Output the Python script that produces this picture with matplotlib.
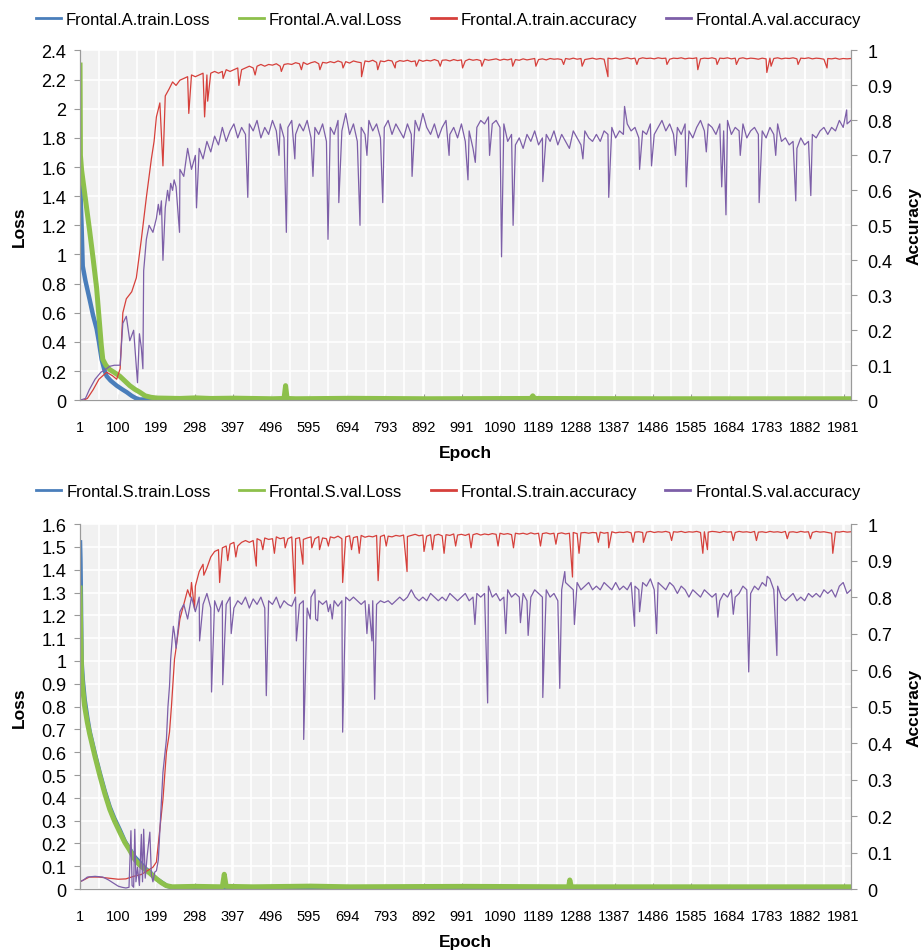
import numpy as np
import matplotlib.pyplot as plt
from matplotlib.lines import Line2D
from matplotlib.ticker import MultipleLocator, FuncFormatter

plt.rcParams['font.family'] = ['Liberation Sans', 'DejaVu Sans']

# ---- data ----
xticks = list(range(1, 2000, 99))
grid_ep = list(range(250, 2001, 10))   # epochs of the "late" value lists

# Frontal.A
a_tr_loss = [(1, 1.62), (3, 1.35), (5, 1.2), (8, 0.92), (15, 0.82), (26, 0.69), (35, 0.58),
             (44, 0.49), (50, 0.40), (57, 0.28), (64, 0.21), (70, 0.165), (80, 0.135),
             (96, 0.10), (110, 0.075), (122, 0.055), (135, 0.03), (145, 0.015), (155, 0.005),
             (200, 0.003), (2000, 0.003)]
a_va_loss = [(1, 2.3), (2, 1.68), (5, 1.58), (8, 1.52), (15, 1.38), (26, 1.16), (35, 0.97),
             (44, 0.77), (52, 0.51), (56, 0.38), (60, 0.28), (68, 0.24), (78, 0.21), (90, 0.19),
             (104, 0.165), (118, 0.13), (130, 0.10), (143, 0.075), (156, 0.055), (170, 0.03),
             (185, 0.02), (200, 0.015), (260, 0.012), (300, 0.016), (340, 0.012), (400, 0.014),
             (500, 0.01), (530, 0.012), (534, 0.1), (538, 0.012), (560, 0.01), (700, 0.013),
             (900, 0.01), (1170, 0.012), (1175, 0.03), (1180, 0.012), (1500, 0.01), (2000, 0.01)]

a_tr_acc_early = [(1, 0), (10, 0), (20, 0.005), (35, 0.03), (50, 0.06), (70, 0.08), (85, 0.07),
                  (96, 0.06), (105, 0.09), (112, 0.25), (121, 0.29), (135, 0.31), (147, 0.35),
                  (160, 0.46), (173, 0.58), (186, 0.69), (193, 0.74), (199, 0.81), (208, 0.85),
                  (216, 0.67), (222, 0.87), (232, 0.89), (241, 0.91)]
a_tr_acc_late = [
    0.90, 0.915, 0.92, 0.925, 0.93, 0.925, 0.93, 0.935, 0.93, 0.935,
    0.94, 0.935, 0.94, 0.945, 0.94, 0.945, 0.95, 0.945, 0.95, 0.955,
    0.95, 0.955, 0.96, 0.955, 0.96, 0.958, 0.962, 0.955, 0.96, 0.962,
    0.96, 0.965, 0.962, 0.966, 0.96, 0.965, 0.968, 0.962, 0.966, 0.964,
    0.968, 0.965, 0.97, 0.966, 0.968, 0.964, 0.97, 0.967, 0.965, 0.97,
    0.968, 0.972, 0.966, 0.97, 0.968, 0.972, 0.97, 0.966, 0.971, 0.969,
    0.972, 0.968, 0.97, 0.973, 0.969, 0.972, 0.97, 0.974, 0.97, 0.972,
    0.973, 0.97, 0.974, 0.971, 0.973, 0.97, 0.975, 0.972, 0.974, 0.971,
    0.975, 0.972, 0.974, 0.976, 0.972, 0.975, 0.973, 0.976, 0.974, 0.972,
    0.976, 0.973, 0.975, 0.977, 0.974, 0.976, 0.973, 0.977, 0.975, 0.976,
    0.974, 0.977, 0.975, 0.978, 0.975, 0.977, 0.974, 0.976, 0.978, 0.975,
    0.977, 0.975, 0.978, 0.976, 0.978, 0.975, 0.977, 0.979, 0.976, 0.978,
    0.976, 0.979, 0.977, 0.978, 0.976, 0.979, 0.977, 0.978, 0.975, 0.978,
    0.977, 0.979, 0.976, 0.978, 0.977, 0.979, 0.976, 0.978, 0.977, 0.979,
    0.976, 0.978, 0.977, 0.979, 0.976, 0.978, 0.977, 0.979, 0.976, 0.978,
    0.977, 0.975, 0.978, 0.976, 0.978, 0.977, 0.979, 0.976, 0.978, 0.977,
    0.979, 0.976, 0.978, 0.977, 0.979, 0.976, 0.978, 0.977, 0.975, 0.977,
    0.976, 0.978, 0.975, 0.977, 0.976, 0.977]
a_tr_acc_dips = [(283, 0.82), (324, 0.81), (332, 0.855), (372, 0.92), (413, 0.90), (455, 0.93),
                 (523, 0.94), (575, 0.945), (623, 0.945), (683, 0.95), (731, 0.925), (773, 0.945),
                 (818, 0.95), (873, 0.955), (935, 0.955), (993, 0.95), (1043, 0.955),
                 (1123, 0.955), (1183, 0.955), (1255, 0.96), (1303, 0.955), (1370, 0.925),
                 (1445, 0.96), (1523, 0.96), (1603, 0.945), (1653, 0.96), (1703, 0.96),
                 (1782, 0.937), (1793, 0.955), (1863, 0.96), (1938, 0.95)]

a_va_acc_early = [(1, 0), (15, 0.005), (25, 0.03), (40, 0.06), (55, 0.08), (70, 0.09), (78, 0.097),
                  (90, 0.1), (105, 0.1), (112, 0.22), (121, 0.24), (130, 0.17), (140, 0.2),
                  (150, 0.05), (155, 0.19), (160, 0.15), (164, 0.09), (166, 0.37), (173, 0.46),
                  (180, 0.50), (190, 0.48), (199, 0.52), (204, 0.56), (208, 0.53), (212, 0.57),
                  (216, 0.40), (222, 0.55), (228, 0.60), (232, 0.57), (236, 0.62), (241, 0.60),
                  (245, 0.63)]
a_va_acc_late = [
    0.61, 0.66, 0.64, 0.72, 0.66, 0.70, 0.72, 0.69, 0.74, 0.71,
    0.755, 0.73, 0.78, 0.74, 0.77, 0.79, 0.75, 0.78, 0.76, 0.79,
    0.77, 0.80, 0.75, 0.78, 0.76, 0.80, 0.77, 0.79, 0.75, 0.78,
    0.80, 0.76, 0.79, 0.77, 0.80, 0.75, 0.78, 0.76, 0.79, 0.74,
    0.78, 0.76, 0.80, 0.77, 0.82, 0.76, 0.79, 0.74, 0.78, 0.76,
    0.80, 0.77, 0.79, 0.75, 0.78, 0.80, 0.76, 0.79, 0.77, 0.75,
    0.79, 0.76, 0.80, 0.77, 0.82, 0.78, 0.76, 0.79, 0.75, 0.78,
    0.80, 0.76, 0.78, 0.75, 0.79, 0.74, 0.77, 0.72, 0.78, 0.80,
    0.79, 0.81, 0.79, 0.80, 0.78, 0.79, 0.74, 0.76, 0.73, 0.75,
    0.72, 0.76, 0.74, 0.77, 0.73, 0.75, 0.76, 0.74, 0.77, 0.73,
    0.76, 0.74, 0.72, 0.77, 0.75, 0.73, 0.77, 0.75, 0.74, 0.76,
    0.74, 0.77, 0.76, 0.78, 0.75, 0.77, 0.76, 0.79, 0.77, 0.78,
    0.75, 0.77, 0.76, 0.79, 0.76, 0.78, 0.80, 0.77, 0.79, 0.76,
    0.78, 0.76, 0.79, 0.77, 0.75, 0.78, 0.80, 0.77, 0.79, 0.78,
    0.76, 0.79, 0.77, 0.80, 0.76, 0.78, 0.77, 0.79, 0.75, 0.77,
    0.78, 0.76, 0.77, 0.75, 0.78, 0.76, 0.79, 0.74, 0.75, 0.73,
    0.74, 0.72, 0.75, 0.73, 0.74, 0.76, 0.75, 0.77, 0.78, 0.76,
    0.78, 0.77, 0.80, 0.78, 0.79, 0.80]
a_va_acc_dips = [(259, 0.48), (303, 0.55), (436, 0.58), (517, 0.70), (536, 0.48), (558, 0.69),
                 (605, 0.64), (644, 0.46), (672, 0.565), (727, 0.50), (745, 0.70), (786, 0.565),
                 (862, 0.64), (958, 0.70), (1007, 0.63), (1026, 0.68), (1063, 0.70),
                 (1094, 0.41), (1124, 0.50), (1201, 0.625), (1305, 0.69), (1372, 0.58),
                 (1413, 0.84), (1452, 0.66), (1483, 0.67), (1545, 0.70), (1573, 0.61),
                 (1625, 0.71), (1665, 0.61), (1676, 0.53), (1713, 0.70), (1762, 0.565),
                 (1805, 0.70), (1857, 0.57), (1896, 0.585), (1989, 0.83)]

# Frontal.S
s_tr_loss = [(1, 1.52), (2, 1.45), (3, 1.32), (5, 1.0), (8, 0.92), (13, 0.83), (20, 0.75),
             (26, 0.69), (40, 0.59), (52, 0.51), (65, 0.43), (78, 0.36), (90, 0.31), (104, 0.26),
             (117, 0.21), (130, 0.175), (143, 0.14), (156, 0.117), (170, 0.09), (182, 0.075),
             (190, 0.06), (199, 0.045), (212, 0.03), (225, 0.015), (240, 0.008), (300, 0.006),
             (2000, 0.005)]
s_va_loss = [(1, 1.32), (3, 1.1), (5, 0.95), (8, 0.88), (13, 0.8), (20, 0.73), (26, 0.68),
             (40, 0.58), (52, 0.50), (65, 0.42), (78, 0.35), (90, 0.30), (104, 0.25),
             (117, 0.205), (130, 0.17), (143, 0.13), (156, 0.105), (170, 0.085), (182, 0.07),
             (190, 0.058), (199, 0.045), (212, 0.028), (225, 0.015), (240, 0.01), (300, 0.012),
             (370, 0.01), (375, 0.065), (380, 0.012), (450, 0.01), (600, 0.013), (700, 0.01),
             (1000, 0.012), (1268, 0.01), (1271, 0.04), (1275, 0.01), (1600, 0.01), (2000, 0.01)]

s_tr_acc_early = [(1, 0.02), (10, 0.025), (25, 0.033), (50, 0.033), (75, 0.03), (100, 0.027),
                  (120, 0.028), (140, 0.035), (160, 0.04), (175, 0.05), (190, 0.06), (199, 0.074),
                  (207, 0.156), (216, 0.246), (225, 0.375), (233, 0.43), (238, 0.50), (246, 0.63)]
s_tr_acc_late = [
    0.66, 0.74, 0.78, 0.82, 0.84, 0.83, 0.87, 0.89, 0.88, 0.91,
    0.925, 0.93, 0.935, 0.94, 0.945, 0.95, 0.94, 0.95, 0.955, 0.95,
    0.955, 0.96, 0.955, 0.962, 0.958, 0.96, 0.965, 0.96, 0.963, 0.96,
    0.965, 0.96, 0.963, 0.958, 0.962, 0.965, 0.96, 0.966, 0.962, 0.96,
    0.965, 0.962, 0.967, 0.96, 0.965, 0.968, 0.963, 0.966, 0.969, 0.964,
    0.967, 0.965, 0.969, 0.966, 0.97, 0.967, 0.965, 0.969, 0.967, 0.97,
    0.966, 0.969, 0.972, 0.968, 0.97, 0.967, 0.971, 0.969, 0.972, 0.968,
    0.971, 0.969, 0.973, 0.97, 0.972, 0.969, 0.973, 0.971, 0.974, 0.97,
    0.973, 0.971, 0.974, 0.972, 0.975, 0.972, 0.974, 0.971, 0.975, 0.973,
    0.975, 0.972, 0.976, 0.973, 0.975, 0.974, 0.976, 0.973, 0.975, 0.974,
    0.976, 0.973, 0.975, 0.977, 0.974, 0.976, 0.977, 0.975, 0.977, 0.976,
    0.978, 0.975, 0.977, 0.979, 0.976, 0.978, 0.977, 0.979, 0.976, 0.978,
    0.979, 0.977, 0.978, 0.98, 0.977, 0.979, 0.978, 0.98, 0.977, 0.979,
    0.978, 0.98, 0.977, 0.979, 0.978, 0.98, 0.977, 0.979, 0.978, 0.98,
    0.979, 0.977, 0.98, 0.978, 0.979, 0.977, 0.98, 0.978, 0.979, 0.977,
    0.98, 0.978, 0.979, 0.977, 0.98, 0.978, 0.979, 0.977, 0.98, 0.978,
    0.979, 0.977, 0.98, 0.978, 0.979, 0.977, 0.98, 0.978, 0.979, 0.977,
    0.975, 0.979, 0.978, 0.98, 0.978, 0.979]
s_tr_acc_dips = [(287, 0.80), (298, 0.767), (322, 0.86), (363, 0.84), (384, 0.90), (405, 0.91),
                 (458, 0.885), (475, 0.93), (505, 0.92), (533, 0.935), (558, 0.81), (579, 0.89),
                 (602, 0.935), (622, 0.93), (645, 0.94), (682, 0.84), (705, 0.93), (725, 0.92),
                 (774, 0.845), (795, 0.94), (849, 0.87), (893, 0.925), (915, 0.93), (945, 0.92),
                 (975, 0.94), (1015, 0.935), (1085, 0.94), (1125, 0.935), (1195, 0.94),
                 (1235, 0.945), (1278, 0.855), (1295, 0.92), (1345, 0.95), (1372, 0.935),
                 (1435, 0.95), (1462, 0.95), (1535, 0.955), (1616, 0.92), (1628, 0.93),
                 (1695, 0.955), (1755, 0.955), (1835, 0.96), (1895, 0.96), (1953, 0.92)]

s_va_acc_early = [(1, 0.02), (10, 0.025), (20, 0.033), (40, 0.035), (60, 0.033), (75, 0.025),
                  (90, 0.015), (100, 0.008), (110, 0.005), (120, 0.003), (128, 0.005), (133, 0.16),
                  (136, 0.01), (140, 0.005), (143, 0.164), (146, 0.02), (150, 0.06), (155, 0.01),
                  (160, 0.15), (163, 0.02), (166, 0.164), (170, 0.03), (175, 0.09), (182, 0.156),
                  (186, 0.04), (190, 0.02), (195, 0.047), (199, 0.05), (204, 0.08), (210, 0.2),
                  (216, 0.32), (221, 0.37), (225, 0.41), (229, 0.5), (233, 0.556), (236, 0.63),
                  (240, 0.685), (243, 0.72), (246, 0.70)]
s_va_acc_late = [
    0.66, 0.76, 0.78, 0.74, 0.80, 0.76, 0.80, 0.78, 0.81, 0.77,
    0.79, 0.76, 0.79, 0.78, 0.80, 0.77, 0.79, 0.78, 0.80, 0.77,
    0.795, 0.78, 0.80, 0.77, 0.79, 0.78, 0.80, 0.77, 0.79, 0.78,
    0.775, 0.80, 0.78, 0.79, 0.77, 0.80, 0.82, 0.79, 0.78, 0.79,
    0.78, 0.79, 0.775, 0.79, 0.80, 0.79, 0.80, 0.79, 0.78, 0.79,
    0.78, 0.79, 0.78, 0.79, 0.785, 0.79, 0.78, 0.79, 0.80, 0.79,
    0.80, 0.82, 0.80, 0.79, 0.80, 0.79, 0.81, 0.80, 0.79, 0.80,
    0.79, 0.81, 0.80, 0.79, 0.80, 0.81, 0.79, 0.80, 0.81, 0.80,
    0.81, 0.83, 0.80, 0.81, 0.79, 0.80, 0.82, 0.80, 0.81, 0.80,
    0.81, 0.79, 0.80, 0.82, 0.81, 0.80, 0.82, 0.80, 0.81, 0.79,
    0.82, 0.84, 0.83, 0.82, 0.84, 0.82, 0.83, 0.84, 0.82, 0.83,
    0.82, 0.84, 0.83, 0.82, 0.84, 0.82, 0.83, 0.82, 0.84, 0.83,
    0.82, 0.84, 0.83, 0.85, 0.82, 0.84, 0.83, 0.82, 0.84, 0.83,
    0.81, 0.83, 0.82, 0.80, 0.82, 0.81, 0.80, 0.82, 0.81, 0.80,
    0.81, 0.79, 0.81, 0.80, 0.82, 0.80, 0.81, 0.83, 0.82, 0.81,
    0.83, 0.82, 0.84, 0.83, 0.85, 0.82, 0.83, 0.80, 0.79, 0.80,
    0.81, 0.79, 0.80, 0.79, 0.81, 0.80, 0.81, 0.80, 0.82, 0.81,
    0.82, 0.80, 0.83, 0.84, 0.81, 0.82]
s_va_acc_dips = [(311, 0.68), (342, 0.54), (371, 0.56), (393, 0.70), (484, 0.53), (562, 0.68),
                 (581, 0.41), (598, 0.74), (612, 0.74), (617, 0.735), (645, 0.76), (655, 0.74),
                 (682, 0.43), (745, 0.70), (758, 0.68), (765, 0.52), (1025, 0.725), (1058, 0.51),
                 (1105, 0.70), (1143, 0.73), (1163, 0.695), (1201, 0.525), (1245, 0.55),
                 (1258, 0.87), (1283, 0.725), (1439, 0.72), (1452, 0.76), (1496, 0.70),
                 (1655, 0.745), (1695, 0.753), (1735, 0.595), (1783, 0.857), (1808, 0.64)]

C_BLUE = '#4a7ebb'
C_GREEN = '#8dc04b'
C_RED = '#d6403b'
C_PURPLE = '#7d5fa8'
GRAY = '#9a9a9a'


def xy(pairs):
    a = np.array(sorted(pairs), dtype=float)
    return a[:, 0], a[:, 1]


def series(early, late, dips):
    return xy(early + list(zip(grid_ep, late)) + dips)


def panel(rect, tag, tr_loss, va_loss, tr_acc, va_acc, loss_max, loss_step, leg_y):
    ax = fig.add_axes(rect)
    ax.set_facecolor('#f1f1f1')
    ax2 = ax.twinx()

    ax.plot(*xy(tr_loss), color=C_BLUE, lw=3.2)
    ax.plot(*xy(va_loss), color=C_GREEN, lw=3.6)
    ax2.plot(*tr_acc, color=C_RED, lw=0.9)
    ax2.plot(*va_acc, color=C_PURPLE, lw=0.9)

    ax.set_xlim(1, 2000)
    ax.set_ylim(0, loss_max)
    ax2.set_ylim(0, 1)
    ax.set_xticks(xticks)
    ax.xaxis.set_minor_locator(MultipleLocator(49.5))
    ax.yaxis.set_major_locator(MultipleLocator(loss_step))
    ax2.yaxis.set_major_locator(MultipleLocator(0.1))
    ax.yaxis.set_major_formatter(FuncFormatter(lambda v, p: f'{round(v, 2):g}'))
    ax2.yaxis.set_major_formatter(FuncFormatter(lambda v, p: f'{round(v, 2):g}'))

    ax.grid(True, which='both', axis='x', color='white', lw=1.2)
    ax.grid(True, which='major', axis='y', color='white', lw=1.2)
    ax.set_axisbelow(True)

    for a in (ax, ax2):
        a.spines['top'].set_visible(False)
        for s in ('left', 'right', 'bottom'):
            a.spines[s].set_color(GRAY)
    ax.tick_params(axis='x', which='major', direction='in', length=4, color=GRAY,
                   labelsize=10.5, pad=14)
    ax.tick_params(axis='x', which='minor', length=0)
    ax.tick_params(axis='y', direction='out', length=4, color=GRAY, labelsize=13, pad=6)
    ax2.tick_params(axis='y', direction='out', length=4, color=GRAY, labelsize=13, pad=8)

    ax.set_xlabel('Epoch', fontsize=12.5, fontweight='bold', labelpad=8)
    ax.set_ylabel('Loss', fontsize=12.5, fontweight='bold', labelpad=10)
    ax2.set_ylabel('Accuracy', fontsize=12.5, fontweight='bold', labelpad=10)

    handles = [Line2D([], [], color=C_BLUE, lw=2), Line2D([], [], color=C_GREEN, lw=2),
               Line2D([], [], color=C_RED, lw=2), Line2D([], [], color=C_PURPLE, lw=2)]
    labels = [f'Frontal.{tag}.train.Loss', f'Frontal.{tag}.val.Loss',
              f'Frontal.{tag}.train.accuracy', f'Frontal.{tag}.val.accuracy']
    fig.legend(handles, labels, loc='center', bbox_to_anchor=(0.487, leg_y), ncol=4,
               frameon=False, fontsize=12, handlelength=1.5, handletextpad=0.3,
               columnspacing=1.7)


fig = plt.figure(figsize=(9.21, 9.53), dpi=100)

panel([0.0869, 0.579, 0.837, 0.367], 'A', a_tr_loss, a_va_loss,
      series(a_tr_acc_early, a_tr_acc_late, a_tr_acc_dips),
      series(a_va_acc_early, a_va_acc_late, a_va_acc_dips), 2.4, 0.2, 0.979)
panel([0.0869, 0.066, 0.837, 0.383], 'S', s_tr_loss, s_va_loss,
      series(s_tr_acc_early, s_tr_acc_late, s_tr_acc_dips),
      series(s_va_acc_early, s_va_acc_late, s_va_acc_dips), 1.6, 0.1, 0.483)

fig.savefig('out.png', dpi=100)
